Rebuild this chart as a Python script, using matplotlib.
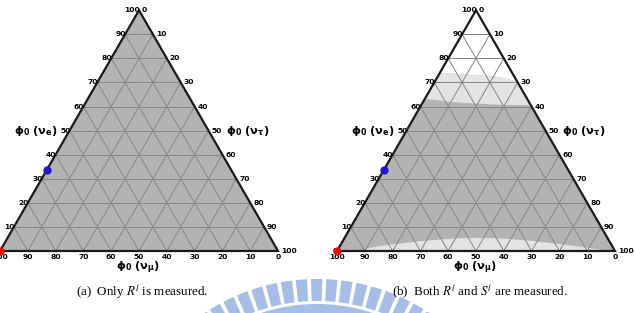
import numpy as np
import matplotlib.pyplot as plt
from matplotlib.patches import Polygon, Wedge

plt.rcParams['mathtext.fontset'] = 'dejavusans'

H = np.sqrt(3) / 2
ticks = list(range(0, 101, 10))

# measured points as (nu_e, nu_mu, nu_tau) in percent
blue_pt = (33.5, 66.5, 0.0)
red_pt = (0.0, 100.0, 0.0)

# panel (b): band edges, nu_e (%) against position across the chord (0 = left edge, 1 = right edge)
band_pos = [0.0, 0.25, 0.5, 0.75, 1.0]
band_top = [74.0, 73.5, 73.0, 72.5, 70.5]
band_bot = [63.2, 62.0, 61.2, 60.7, 60.5]
# panel (b): bright sliver along the bottom edge
low_pos = [0.08, 0.12, 0.2, 0.3, 0.4, 0.5, 0.6, 0.7, 0.8, 0.9, 0.97]
low_e = [0.0, 1.5, 2.9, 4.2, 5.1, 5.5, 5.2, 4.3, 3.0, 1.5, 0.0]

captions = [r'(a)  Only $R^l$ is measured.', r'(b)  Both $R^l$ and $S^l$ are measured.']

DARK = '#b3b3b3'
LIGHT = '#e3e3e3'
GRID = '#858585'


def tern(e, mu, tau):
    s = e + mu + tau
    return (tau + 0.5 * e) / s, H * e / s


def chord(pos, e):
    # point on the horizontal line nu_e = e, at fraction pos across it
    rest = 100.0 - e
    return tern(e, rest * (1 - pos), rest * pos)


def make_ax(fig, x0, width=278, ybase=251):
    W, Hpx = 634, 313
    ax = fig.add_axes([0, 0, 1, 1])
    ax.set_xlim(-x0 / width, (W - x0) / width)
    ax.set_ylim((ybase - Hpx) / width, ybase / width)
    ax.axis('off')
    ax.patch.set_alpha(0)
    return ax


def draw_grid(ax):
    for v in ticks[1:-1]:
        for a, b in [(tern(v, 100 - v, 0), tern(v, 0, 100 - v)),
                     (tern(0, 100 - v, v), tern(100 - v, 0, v)),
                     (tern(0, v, 100 - v), tern(100 - v, v, 0))]:
            ax.plot([a[0], b[0]], [a[1], b[1]], color=GRID, lw=0.7, zorder=3)
    corners = [tern(0, 100, 0), tern(0, 0, 100), tern(100, 0, 0), tern(0, 100, 0)]
    ax.plot([c[0] for c in corners], [c[1] for c in corners], color='#1a1a1a', lw=1.6,
            zorder=4, solid_joinstyle='miter')
    kw = dict(fontsize=5.4, fontweight='bold', textcoords='offset pixels', zorder=5)
    for v in ticks:
        ax.annotate(str(v), tern(v, 100 - v, 0), xytext=(1, 0), ha='right', va='center', **kw)
        ax.annotate(str(v), tern(100 - v, 0, v), xytext=(3, 0), ha='left', va='center', **kw)
        ax.annotate(str(v), tern(0, v, 100 - v), xytext=(0, -3), ha='center', va='top', **kw)
    lk = dict(fontsize=8.2, textcoords='offset pixels', va='center')
    ax.annotate(r'$\mathbf{\phi_0\ (\nu_e)}$', tern(50, 50, 0), xytext=(-12, 0), ha='right', **lk)
    ax.annotate(r'$\mathbf{\phi_0\ (\nu_\tau)}$', tern(50, 0, 50), xytext=(17, 0), ha='left', **lk)
    ax.annotate(r'$\mathbf{\phi_0\ (\nu_\mu)}$', tern(0, 50, 50), xytext=(-1, -17), ha='center', **lk)
    for pt, c in [(blue_pt, '#1c1cc8'), (red_pt, '#e01010')]:
        x, y = tern(*pt)
        ax.plot(x, y, 'o', color=c, ms=5, zorder=6, clip_on=False)


fig = plt.figure(figsize=(6.34, 3.13), dpi=100)

# watermark behind everything (pixel coordinates, y pointing down)
bg = fig.add_axes([0, 0, 1, 1], zorder=-1)
bg.set_xlim(0, 634)
bg.set_ylim(313, 0)
bg.axis('off')
wm = '#a6bee6'
cx, cy = 317, 482
for ang in np.arange(214, 327, 4.3):
    bg.add_patch(Wedge((cx, cy), 203, ang - 1.6, ang + 1.6, width=22, color=wm, lw=0))
bg.add_patch(Wedge((cx, cy), 178, 220, 320, width=12, color=wm, lw=0))

ax1 = make_ax(fig, 0)
ax1.add_patch(Polygon([tern(0, 100, 0), tern(0, 0, 100), tern(100, 0, 0)], color=DARK, lw=0, zorder=1))
draw_grid(ax1)

ax2 = make_ax(fig, 337)
ax2.add_patch(Polygon([tern(0, 100, 0), tern(0, 0, 100), tern(100, 0, 0)], color=DARK, lw=0, zorder=1))
top = [chord(p, e) for p, e in zip(band_pos, band_top)]
bot = [chord(p, e) for p, e in zip(band_pos, band_bot)]
ax2.add_patch(Polygon(top + [tern(100, 0, 0)], color='white', lw=0, zorder=1.5))
ax2.add_patch(Polygon(bot + top[::-1], color=LIGHT, lw=0, zorder=1.5))
sliver = [chord(p, e) for p, e in zip(low_pos, low_e)]
ax2.add_patch(Polygon(sliver, color=LIGHT, lw=0, zorder=1.5))
draw_grid(ax2)

for x, txt in zip([142, 480], captions):
    fig.text(x / 634, 1 - 292 / 313, txt, ha='center', va='center', fontsize=9.4,
             family='Liberation Serif', math_fontfamily='stix')

fig.savefig('out.png', dpi=100)
